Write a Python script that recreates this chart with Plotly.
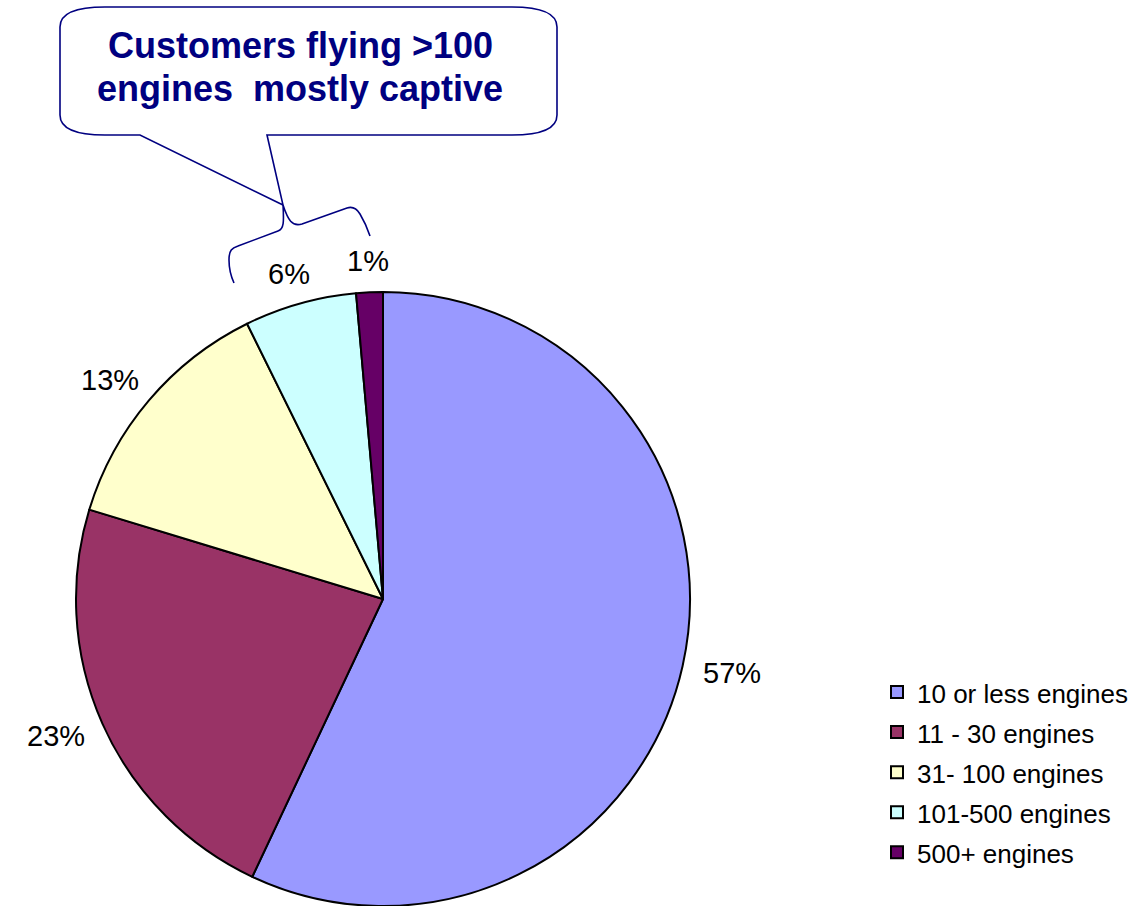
import math
import plotly.graph_objects as go

W, H = 1145, 906

# Engine-fleet size bands and their share of customers (%)
categories = ["10 or less engines", "11 - 30 engines", "31- 100 engines",
              "101-500 engines", "500+ engines"]
shares = [57.0, 22.7, 13.0, 5.9, 1.4]
colors = ["#9999FF", "#993366", "#FFFFCC", "#CCFFFF", "#660066"]
pct_labels = [f"{v:.0f}%" for v in shares]

callout_lines = ["Customers flying &gt;100", "engines&nbsp; mostly captive"]

FONT = "Liberation Sans, Arial, sans-serif"
NAVY = "#000080"

# pie geometry in pixels (centre and radius)
CX, CY, R = 383, 599, 307


def to_paper(x, y):
    return x / W, 1 - y / H


def path(*segs):
    parts = []
    for cmd, *pts in segs:
        parts.append(cmd + " ".join(f"{x / W:.5f},{1 - y / H:.5f}" for x, y in pts))
    return " ".join(parts)


fig = go.Figure()

fig.add_trace(go.Pie(
    labels=[f'<span style="font-size:26px">{c}</span>' for c in categories],
    values=shares,
    sort=False,
    direction="clockwise",
    rotation=0,
    marker=dict(colors=colors, line=dict(color="black", width=2)),
    textinfo="none",
    hoverinfo="percent",
    domain=dict(x=[(CX - R) / W, (CX + R) / W],
                y=[(H - CY - R) / H, (H - CY + R) / H]),
))

# percentage labels placed just outside each slice's mid-angle
annotations = []
LBL_FS = 29
total = sum(shares)
cum = 0.0
for v, txt in zip(shares, pct_labels):
    theta = 2 * math.pi * (cum + v / 2) / total
    cum += v
    ux, uy = math.sin(theta), -math.cos(theta)
    half_w = 0.5 * LBL_FS * 0.7 * len(txt)
    half_h = 0.5 * LBL_FS * 0.75
    gap = 20
    lx = CX + (R + gap) * ux + half_w * ux
    ly = CY + (R + gap) * uy + half_h * uy
    px_, py_ = to_paper(lx, ly)
    annotations.append(dict(
        x=px_, y=py_, xref="paper", yref="paper", text=txt, showarrow=False,
        xanchor="center", yanchor="middle",
        font=dict(family=FONT, size=LBL_FS, color="black"),
    ))

# callout text, one annotation per line
for line, yc in zip(callout_lines, (45, 89)):
    cx_, cy_ = to_paper(300, yc)
    annotations.append(dict(
        x=cx_, y=cy_, xref="paper", yref="paper",
        text="<b>" + line + "</b>",
        showarrow=False, xanchor="center", yanchor="middle", align="center",
        font=dict(family=FONT, size=36, color=NAVY),
    ))

bubble = path(("M", (105, 7)), ("L", (512, 7)), ("Q", (557, 7), (557, 27)),
              ("L", (557, 115)), ("Q", (557, 135), (512, 135)),
              ("L", (267, 135)), ("L", (283, 205)), ("L", (140, 135)),
              ("L", (105, 135)), ("Q", (60, 135), (60, 115)),
              ("L", (60, 27)), ("Q", (60, 7), (105, 7)), ("Z",))

brace = path(("M", (234, 283)), ("Q", (229, 272), (229, 260)),
             ("C", (229, 250), (232, 248), (238, 246)), ("L", (278, 231)),
             ("C", (284, 229), (284, 222), (283, 205)),
             ("C", (288, 220), (292, 227), (302, 224)), ("L", (347, 208)),
             ("C", (353, 206), (357, 209), (360, 214)),
             ("Q", (366, 224), (370, 236)))

shapes = [
    dict(type="path", path=bubble, xref="paper", yref="paper",
         fillcolor="white", line=dict(color=NAVY, width=1.6), layer="below"),
    dict(type="path", path=brace, xref="paper", yref="paper",
         fillcolor="rgba(0,0,0,0)", line=dict(color=NAVY, width=1.6)),
]

lx0, ly0 = to_paper(877, 667)
fig.update_layout(
    width=W, height=H,
    margin=dict(l=0, r=0, t=0, b=0),
    paper_bgcolor="white", plot_bgcolor="white",
    showlegend=True,
    legend=dict(x=lx0, y=ly0, xanchor="left", yanchor="top",
                font=dict(family=FONT, size=28.5, color="black"),
                bgcolor="rgba(0,0,0,0)", traceorder="normal"),
    annotations=annotations,
    shapes=shapes,
)

fig.write_html("out.html")
